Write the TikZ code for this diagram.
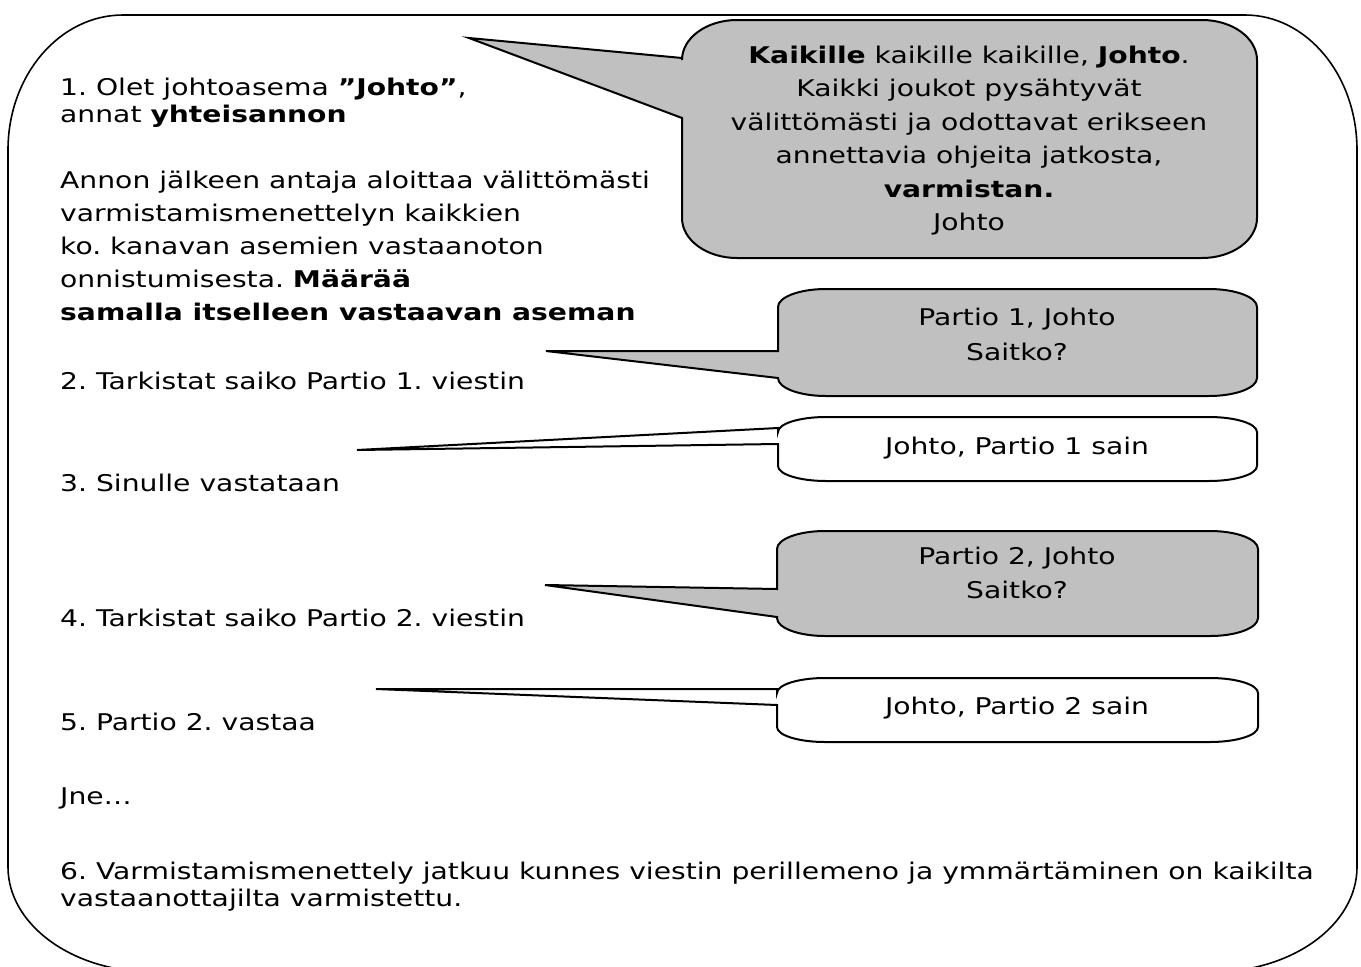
\documentclass[tikz,border=0pt]{standalone}
\usepackage{fontspec}
\setmainfont{DejaVu Sans}[FakeStretch=1.226]
\definecolor{calloutgray}{HTML}{C0C0C0}
\tikzset{
  frame/.style={draw=black, line width=1.6pt},
  bubble/.style={draw=black, line width=2pt, line join=miter},
  graybubble/.style={bubble, fill=calloutgray},
  whitebubble/.style={bubble, fill=white},
  txt/.style={anchor=base west, inner sep=0pt, font=\fontsize{23}{27}\selectfont},
  ctxt/.style={anchor=base, inner sep=0pt, font=\fontsize{23}{27}\selectfont},
}
% #1 style, #2 x1, #3 y1, #4 x2, #5 y2, #6 rx, #7 ry, #8 tail path
\newcommand\drawbubble[8]{%
  \path[#1] (#2,#3+#7) arc[start angle=180,end angle=270,x radius=#6,y radius=#7]
    -- (#4-#6,#3) arc[start angle=270,end angle=360,x radius=#6,y radius=#7]
    -- (#4,#5-#7) arc[start angle=0,end angle=90,x radius=#6,y radius=#7]
    -- (#2+#6,#5) arc[start angle=90,end angle=180,x radius=#6,y radius=#7]
    -- #8 -- cycle;}
\begin{document}
\frenchspacing
\begin{tikzpicture}[x=1pt,y=-1pt]
  \useasboundingbox (0,0) rectangle (1361,967);
  \clip (0,0) rectangle (1361,967);
  % outer frame
  \path[frame] (8,150) arc[start angle=180,end angle=270,x radius=115,y radius=135]
    -- (1245,15) arc[start angle=270,end angle=360,x radius=112,y radius=135]
    -- (1357,867) arc[start angle=0,end angle=90,x radius=145,y radius=105]
    -- (153,972) arc[start angle=90,end angle=180,x radius=145,y radius=105]
    -- cycle;
  % tail tips
  \coordinate (t1) at (469,38);
  \coordinate (t2) at (546,351);
  \coordinate (t3) at (357,450);
  \coordinate (t4) at (545,585);
  \coordinate (t5) at (376,689);
  % callouts
  \drawbubble{graybubble}{682}{20}{1257}{258}{55}{40}{(682,118) -- (t1) -- (682,58)}
  \drawbubble{graybubble}{778}{289}{1257}{396}{48}{18}{(778,378) -- (t2) -- (778,351)}
  \drawbubble{whitebubble}{778}{417}{1257}{481}{48}{15}{(778,444) -- (t3) -- (778,428)}
  \drawbubble{graybubble}{777}{531}{1258}{636}{48}{18}{(777,617) -- (t4) -- (777,589)}
  \drawbubble{whitebubble}{777}{678}{1258}{742}{48}{15}{(777,705) -- (t5) -- (777,689)}
  % left text
  \node[txt] (l1) at (60,95) {1. Olet johtoasema \textbf{”Johto”},};
  \node[txt] (l2) at (60,122) {annat \textbf{yhteisannon}};
  \node[txt] (l3) at (60,188) {Annon jälkeen antaja aloittaa välittömästi};
  \node[txt] (l4) at (60,221) {varmistamismenettelyn kaikkien};
  \node[txt] (l5) at (60,254) {ko. kanavan asemien vastaanoton};
  \node[txt] (l6) at (60,287) {onnistumisesta. \textbf{Määrää}};
  \node[txt] (l7) at (60,320) {\textbf{samalla itselleen vastaavan aseman}};
  \node[txt] (l8) at (60,389) {2. Tarkistat saiko Partio 1. viestin};
  \node[txt] (l9) at (60,491) {3. Sinulle vastataan};
  \node[txt] (l10) at (60,626) {4. Tarkistat saiko Partio 2. viestin};
  \node[txt] (l11) at (60,730) {5. Partio 2. vastaa};
  \node[txt] (l12) at (60,804) {Jne…};
  \node[txt] (l13) at (60,879) {6. Varmistamismenettely jatkuu kunnes viestin perillemeno ja ymmärtäminen on kaikilta};
  \node[txt] (l14) at (60,906) {vastaanottajilta varmistettu.};
  % callout texts
  \node[ctxt] (a1) at (969,63) {\textbf{Kaikille} kaikille kaikille, \textbf{Johto}.};
  \node[ctxt] (a2) at (969,96) {Kaikki joukot pysähtyvät};
  \node[ctxt] (a3) at (969,130) {välittömästi ja odottavat erikseen};
  \node[ctxt] (a4) at (969,163) {annettavia ohjeita jatkosta,};
  \node[ctxt] (a5) at (969,197) {\textbf{varmistan.}};
  \node[ctxt] (a6) at (969,230) {Johto};
  \node[ctxt] (b1) at (1017,325) {Partio 1, Johto};
  \node[ctxt] (b2) at (1017,360) {Saitko?};
  \node[ctxt] (c1) at (1017,454) {Johto, Partio 1 sain};
  \node[ctxt] (d1) at (1017,564) {Partio 2, Johto};
  \node[ctxt] (d2) at (1017,598) {Saitko?};
  \node[ctxt] (e1) at (1017,714) {Johto, Partio 2 sain};
\end{tikzpicture}
\end{document}
